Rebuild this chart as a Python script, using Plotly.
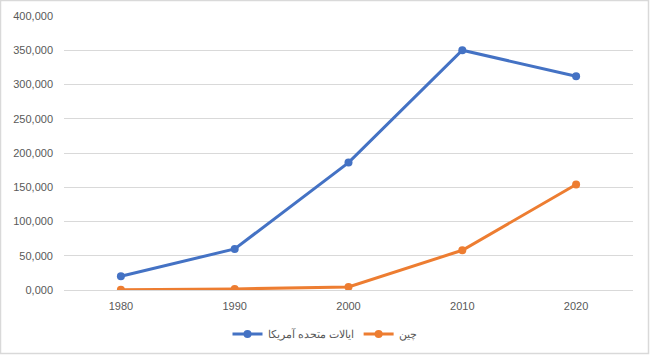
import plotly.graph_objects as go

years = ["1980", "1990", "2000", "2010", "2020"]
usa = [20000, 60000, 186000, 350000, 312000]
china = [500, 1500, 4500, 58000, 154000]
usa_name = "ایالات متحده آمریکا"
china_name = "چین"
y_ticks = [0, 50000, 100000, 150000, 200000, 250000, 300000, 350000, 400000]
y_labels = ["0,000", "50,000", "100,000", "150,000", "200,000", "250,000", "300,000", "350,000", "400,000"]

W, H = 650, 356
ML, MR, MT, MB = 64, 17, 16, 66
pw, ph = W - ML - MR, H - MT - MB

fig = go.Figure()
fig.add_trace(go.Scatter(x=years, y=usa, name=usa_name, mode="lines+markers",
                         line=dict(color="#4472C4", width=3), marker=dict(size=8, color="#4472C4")))
fig.add_trace(go.Scatter(x=years, y=china, name=china_name, mode="lines+markers",
                         line=dict(color="#ED7D31", width=3), marker=dict(size=8, color="#ED7D31")))

fig.update_layout(
    width=W, height=H,
    margin=dict(l=ML, r=MR, t=MT, b=MB, autoexpand=False),
    paper_bgcolor="white", plot_bgcolor="white",
    font=dict(family="Liberation Sans, Arial, sans-serif", size=11, color="#595959"),
    showlegend=True,
    legend=dict(orientation="h", x=(325 - ML) / pw, xanchor="center",
                y=(H - MB - 334) / ph, yanchor="middle",
                font=dict(size=11, color="#595959"), traceorder="normal"),
    xaxis=dict(type="category", range=[-0.5, 4.5], showgrid=False, showline=False, automargin=False,
               ticks="", tickfont=dict(size=11, color="#595959"), ticklabelstandoff=8),
    yaxis=dict(range=[0, 400000], tickvals=y_ticks, ticktext=y_labels, automargin=False,
               showgrid=True, gridcolor="#D9D9D9", gridwidth=1, zeroline=True,
               zerolinecolor="#D9D9D9", zerolinewidth=1, showline=False,
               ticks="", tickfont=dict(size=11, color="#595959"), ticklabelstandoff=10),
    shapes=[dict(type="rect", xref="paper", yref="paper",
                 x0=(0.5 - ML) / pw, x1=(648.5 - ML) / pw,
                 y0=(H - 353.5 - MB) / ph,
                 y1=(H - 0.5 - MB) / ph,
                 line=dict(color="#D9D9D9", width=1.5), layer="below")],
)

fig.write_html("out.html", config={"displayModeBar": False},
               post_script="document.body.style.margin='0';document.body.style.overflow='hidden';")
